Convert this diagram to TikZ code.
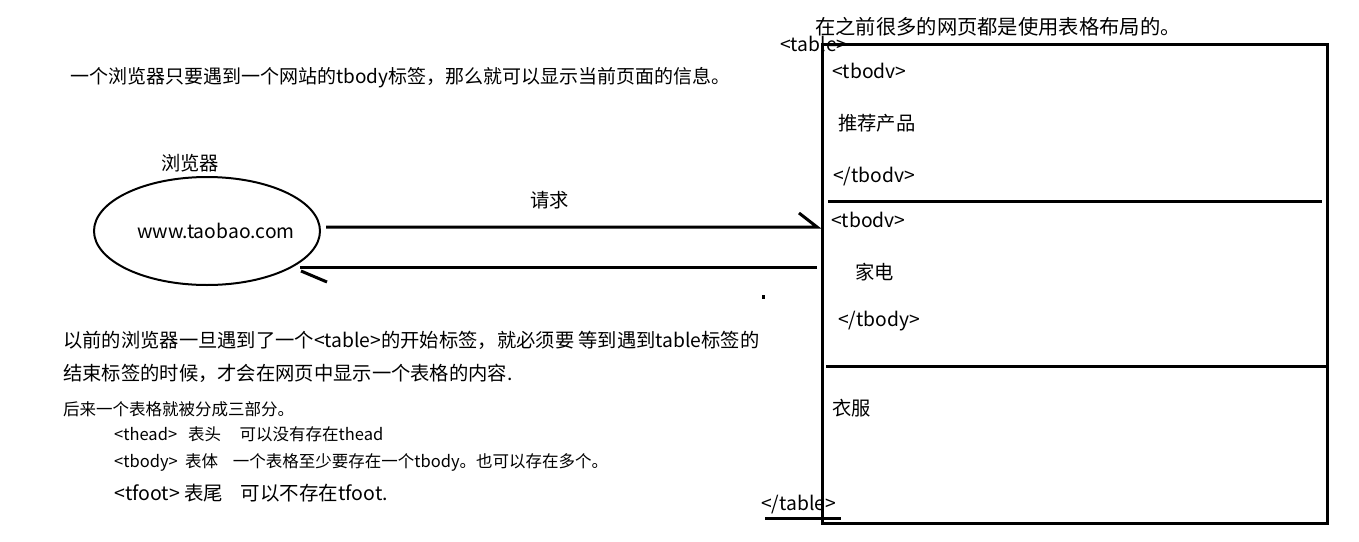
\documentclass[tikz,border=0pt]{standalone}
\usepackage{fontspec}
\setmainfont{Noto Sans CJK SC}
\usetikzlibrary{shapes.geometric}
\begin{document}
\begin{tikzpicture}[x=1pt,y=-1pt,
  big/.style={font=\fontsize{19.3}{21}\selectfont, inner sep=0, anchor=west},
  note/.style={font=\fontsize{19.0}{21}\selectfont, inner sep=0, anchor=west},
  ttl/.style={font=\fontsize{20.3}{22}\selectfont, inner sep=0, anchor=west},
  small/.style={font=\fontsize{16.5}{18}\selectfont, inner sep=0, anchor=west},
  mid/.style={font=\fontsize{19.5}{21}\selectfont, inner sep=0, anchor=west},
  thick3/.style={line width=3pt},
]
\useasboundingbox (0,0) rectangle (1359,541);
% top left note
\node[note] (note1) at (70,78) {一个浏览器只要遇到一个网站的tbody标签，那么就可以显示当前页面的信息。};
% browser
\node[big] (blabel) at (161,163) {浏览器};
\node[draw, ellipse, line width=2pt, minimum width=226, minimum height=108, inner sep=0] (browser) at (207,231) {};
\node[big] (url) at (137,231) {www.taobao.com};
\node[big] (req) at (530,200) {请求};
% table box
\node[draw, thick3, minimum width=505, minimum height=479, inner sep=0, anchor=north west] (tbl) at (821,43) {};
\node[ttl] (title) at (815,27) {在之前很多的网页都是使用表格布局的。};
\node[big] (topen) at (780,44) {<table>};
\node[big] (b1o) at (832,71) {<tbodv>};
\node[big] (b1t) at (838,123) {推荐产品};
\node[big] (b1c) at (833,177) {</tbodv>};
\node[big] (b2o) at (831,220) {<tbodv>};
\node[big] (b2t) at (855,272) {家电};
\node[big] (b2c) at (838,321) {</tbody>};
\node[big] (b3t) at (832,408) {衣服};
\node[big] (tclose) at (761,505) {</table>};
\coordinate (u1) at (765,518);
\coordinate (u2) at (841,518);
\draw[thick3] (u1) -- (u2);
% dividers
\coordinate (d1a) at (828,201);
\coordinate (d1b) at (1322,201);
\coordinate (d2a) at (826,366);
\coordinate (d2b) at (1326,366);
\draw[thick3] (d1a) -- (d1b);
\draw[thick3] (d2a) -- (d2b);
% arrows
\coordinate (a1s) at (326,227);
\coordinate (a1e) at (817,227);
\coordinate (a1t) at (799,213);
\draw[thick3] (a1s) -- (a1e) -- (a1t);
\coordinate (a2s) at (817,267);
\coordinate (a2e) at (300,267);
\coordinate (a2ta) at (301,271);
\coordinate (a2tb) at (327,282);
\draw[thick3] (a2s) -- (a2e);
\draw[thick3] (a2ta) -- (a2tb);
% dot
\fill (762,295) rectangle (765,299);
% bottom left text
\node[big] (p1) at (63,340) {以前的浏览器一旦遇到了一个<table>的开始标签，就必须要 等到遇到table标签的};
\node[big] (p2) at (63,373) {结束标签的时候，才会在网页中显示一个表格的内容.};
\node[small] (p3) at (63,409) {后来一个表格就被分成三部分。};
\node[small] (p4) at (114,434) {<thead>\ \ \ 表头\ \ \ \ \ 可以没有存在thead};
\node[small] (p5) at (114,462) {<tbody>\ \ 表体\ \ \ \ 一个表格至少要存在一个tbody。也可以存在多个。};
\node[mid] (p6) at (114,493) {<tfoot> 表尾\ \ \ \ 可以不存在tfoot.};
\end{tikzpicture}
\end{document}
